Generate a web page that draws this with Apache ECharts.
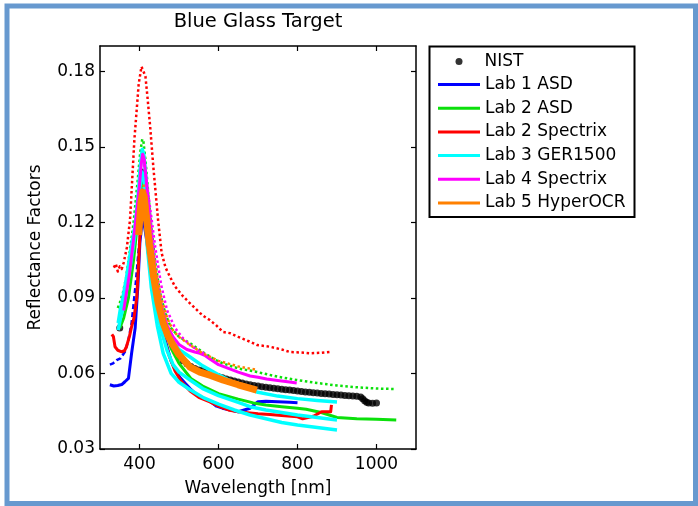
<!DOCTYPE html>
<html>
<head>
<meta charset="utf-8">
<script src="https://cdn.jsdelivr.net/npm/echarts@6/dist/echarts.min.js"></script>
<style>html,body{margin:0;padding:0;background:#fff;}#c{width:698px;height:506px;}</style>
</head>
<body>
<div id="c"></div>
<script>
// ---------- tick values ----------
const xTicks = [400, 600, 800, 1000];
const yTicks = [0.03, 0.06, 0.09, 0.12, 0.15, 0.18];

// ---------- NIST (black dots) ----------
const nistWl = [350,405,500,510,520,530,540,550,560,570,580,590,600,610,620,630,640,650,660,670,680,690,700,710,720,730,740,750,760,770,780,790,800,810,820,830,840,850,860,870,880,890,900,910,920,930,940,950,960,965,970,975,980,990,1000];
const nistRf = [0.078,0.140,0.0668,0.065,0.0638,0.0628,0.062,0.0614,0.0612,0.0605,0.0598,0.0592,0.0587,0.0583,0.0578,0.0574,0.057,0.0566,0.0562,0.0558,0.0555,0.0552,0.055,0.0547,0.0545,0.0543,0.0541,0.0539,0.0537,0.0535,0.0534,0.0532,0.053,0.0528,0.0526,0.0525,0.0523,0.0522,0.052,0.0519,0.0518,0.0516,0.0515,0.0514,0.0512,0.0511,0.051,0.0509,0.0506,0.050,0.0492,0.0486,0.0483,0.0482,0.0483];

// ---------- Lab 1 ASD (blue) ----------
const lab1Wl = [325,335,345,355,363,372,380,389,396,401,405,409,413,418,422,430,443,455,469,480,490,502,515,528,545,560,578,595,610,630,650,665,680,690,700,720,750,780,800];
const lab1Rf = [0.0555,0.055,0.0552,0.0556,0.0567,0.058,0.068,0.078,0.095,0.112,0.118,0.121,0.118,0.113,0.108,0.099,0.089,0.079,0.071,0.065,0.0615,0.0585,0.0562,0.054,0.0515,0.0502,0.049,0.047,0.0462,0.0455,0.0448,0.0455,0.0462,0.0475,0.0488,0.049,0.0488,0.0486,0.0484];
const lab1UpWl = [325,333,342,352,363,372,380,390,400,408];
const lab1UpRf = [0.0635,0.064,0.0653,0.066,0.0686,0.0733,0.080,0.095,0.113,0.122];

// ---------- Lab 2 ASD (green) ----------
const lab2aWl = [350,360,372,385,395,403,408,414,422,432,445,460,480,500,530,560,600,650,688,720,760,800,822,860,900,950,1000,1050];
const lab2aRf = [0.078,0.082,0.090,0.105,0.120,0.133,0.138,0.132,0.118,0.104,0.090,0.080,0.070,0.064,0.058,0.055,0.052,0.0498,0.0483,0.0475,0.0468,0.0462,0.0458,0.0445,0.0425,0.042,0.0418,0.0415];
const lab2aUpWl = [345,350,358,366,375,385,395,402,407,410,415,422,430,440,452,465,480,500,528,560,590,611,650,697,750,798,850,900,941,950,1000,1050];
const lab2aUpRf = [0.086,0.088,0.092,0.098,0.108,0.120,0.136,0.148,0.153,0.152,0.145,0.132,0.118,0.104,0.092,0.084,0.078,0.0745,0.072,0.0685,0.0655,0.064,0.062,0.0606,0.0587,0.0574,0.0562,0.0552,0.0546,0.0545,0.054,0.0538];

// ---------- Lab 2 Spectrix (red) ----------
const lab2sWl = [330,334,338,345,355,362,367,375,380,386,393,398,402,407,410,415,422,432,445,460,475,490,505,528,550,578,600,625,650,680,700,730,760,800,813,840,861,884,886];
const lab2sRf = [0.0755,0.0746,0.0706,0.0692,0.0686,0.069,0.0706,0.075,0.0786,0.082,0.090,0.105,0.118,0.130,0.133,0.127,0.113,0.097,0.085,0.075,0.067,0.061,0.057,0.053,0.0505,0.0487,0.047,0.0455,0.0448,0.0443,0.044,0.0437,0.0433,0.0428,0.042,0.043,0.0448,0.0448,0.0475];
const lab2sUpWl = [335,340,345,350,355,360,368,376,387,398,405,410,415,420,427,435,447,456,466,477,490,511,530,553,565,578,595,611,629,650,680,697,730,760,781,810,832,860,886];
const lab2sUpRf = [0.102,0.1035,0.1005,0.1025,0.1015,0.104,0.110,0.121,0.1527,0.175,0.1818,0.1825,0.178,0.170,0.158,0.142,0.121,0.1078,0.102,0.0984,0.0945,0.0905,0.0875,0.084,0.0825,0.0812,0.079,0.0765,0.076,0.0745,0.0726,0.0713,0.0706,0.0695,0.0685,0.0683,0.068,0.0682,0.0686];

// ---------- Lab 3 GER1500 (cyan) ----------
const lab3AWl = [346,351,358,367,374,380,389,396,402,407,411,416,424,434,446,460,480,500,528,560,600,650,700,750,800,850,900];
const lab3ARf = [0.080,0.085,0.090,0.098,0.105,0.111,0.119,0.130,0.142,0.149,0.147,0.138,0.122,0.106,0.092,0.082,0.0735,0.0695,0.0665,0.063,0.0595,0.0555,0.0525,0.051,0.050,0.0493,0.0487];
const lab3BWl = [346,352,360,368,376,385,394,401,406,411,418,428,440,455,470,485,500,528,560,600,650,680,720,760,800,850,900];
const lab3BRf = [0.0772,0.082,0.087,0.094,0.102,0.111,0.122,0.134,0.140,0.138,0.125,0.107,0.090,0.077,0.069,0.0635,0.0605,0.0574,0.054,0.0512,0.0485,0.0468,0.0455,0.0445,0.0435,0.0425,0.0415];
const lab3CWl = [402,408,414,420,430,445,460,480,500,528,560,600,640,680,720,760,800,850,900];
const lab3CRf = [0.125,0.130,0.125,0.110,0.094,0.079,0.068,0.060,0.0565,0.0535,0.0505,0.0478,0.0455,0.0435,0.042,0.0405,0.0395,0.0385,0.0375];

// ---------- Lab 4 Spectrix (magenta) ----------
const lab4Wl = [360,375,390,400,405,408,412,418,428,440,455,470,485,500,520,540,553,565,580,600,625,650,680,700,722,750,780,798];
const lab4Rf = [0.085,0.100,0.120,0.135,0.144,0.147,0.145,0.135,0.118,0.100,0.087,0.079,0.0745,0.0715,0.0695,0.0685,0.068,0.0672,0.0655,0.0635,0.062,0.0605,0.059,0.0585,0.0578,0.0572,0.0566,0.0562];
const lab4UpWl = [408,415,425,440,455,470,490,510,530,550,570];
const lab4UpRf = [0.147,0.140,0.128,0.110,0.095,0.085,0.078,0.074,0.071,0.069,0.0675];

// ---------- Lab 5 HyperOCR (orange) ----------
const lab5Wl = [398,400,404,408,412,418,425,435,447,460,472,484,500,528,553,580,611,650,697];
const lab5Rf = [0.115,0.120,0.128,0.132,0.130,0.121,0.111,0.099,0.088,0.080,0.075,0.0715,0.0675,0.0625,0.0605,0.0592,0.0574,0.0555,0.0534];
const lab5UpWl = [410,418,428,440,455,470,485,500,528,560,600,650,697];
const lab5UpRf = [0.135,0.128,0.115,0.102,0.090,0.082,0.077,0.0745,0.0713,0.068,0.065,0.0628,0.0614];

const labNames = ['Lab 1 ASD','Lab 2 ASD','Lab 2 Spectrix','Lab 3 GER1500','Lab 4 Spectrix','Lab 5 HyperOCR'];

const FONT = 'DejaVu Sans';
const C = {blue:'#0000ff', green:'#0be00b', red:'#ff0000', cyan:'#00ffff', magenta:'#ff00ff', orange:'#ff8000'};

function zip(a, b){ return a.map((v,i)=>[v,b[i]]); }
function line(name, wl, rf, color, width, type, z){
  return {
    type:'line', name:name, data:zip(wl,rf), symbol:'none', smooth:false,
    color:color, itemStyle:{color:color},
    lineStyle:{color:color, width:width, type:type||'solid', cap:'butt', join:'round'},
    z: z||2, silent:true, animation:false
  };
}
const dot = [2.5, 2.6];

const series = [
  {type:'scatter', name:'NIST', data:zip(nistWl,nistRf), symbol:'circle', symbolSize:7,
   itemStyle:{color:'#000'}, z:1, silent:true, animation:false},
  line('Lab 1 ASD', lab1Wl, lab1Rf, C.blue, 3),
  line('Lab 1 ASD b', lab1UpWl, lab1UpRf, C.blue, 2.5, [5,3]),
  line('Lab 2 ASD', lab2aWl, lab2aRf, C.green, 3),
  line('Lab 2 ASD b', lab2aUpWl, lab2aUpRf, C.green, 2.5, dot),
  line('Lab 2 Spectrix', lab2sWl, lab2sRf, C.red, 3),
  line('Lab 2 Spectrix b', lab2sUpWl, lab2sUpRf, C.red, 2.5, dot),
  line('Lab 3 GER1500', lab3AWl, lab3ARf, C.cyan, 3.5),
  line('Lab 3 GER1500 b', lab3BWl, lab3BRf, C.cyan, 3.5),
  line('Lab 3 GER1500 c', lab3CWl, lab3CRf, C.cyan, 3.5),
  line('Lab 4 Spectrix', lab4Wl, lab4Rf, C.magenta, 3),
  line('Lab 4 Spectrix b', lab4UpWl, lab4UpRf, C.magenta, 2.5, dot),
  line('Lab 5 HyperOCR', lab5Wl, lab5Rf, C.orange, 7),
  line('Lab 5 HyperOCR b', lab5UpWl, lab5UpRf, C.orange, 2.5, dot)
];

const axisLineStyle = {color:'#000', width:1.5};
const txt = {color:'#000', fontFamily:FONT, fontSize:17};

const option = {
  animation:false,
  backgroundColor:'#fff',
  title:{text:'Blue Glass Target', left:258, top:12, textAlign:'center', padding:0,
    textStyle:{color:'#000', fontFamily:FONT, fontSize:19.5, fontWeight:'normal'}},
  grid:{left:100, top:46, right:282, bottom:57, containLabel:false},
  legend:[
    {data:[{name:'NIST', icon:'circle'}], orient:'vertical', left:455.5, top:53, padding:0,
     itemWidth:7, itemHeight:7, itemGap:7, selectedMode:false,
     textStyle:{color:'#000', fontFamily:FONT, fontSize:17, padding:[0,0,0,17]}},
    {data:labNames.map(n=>({name:n, icon:'rect'})), orient:'vertical', left:438, top:76, padding:0,
     itemWidth:42, itemHeight:3, itemGap:6.7, textStyle:txt, selectedMode:false}
  ],
  xAxis:[
    {type:'value', min:300, max:1100, position:'bottom',
     axisLine:{show:true, onZero:false, lineStyle:axisLineStyle},
     axisTick:{show:true, inside:true, length:5, customValues:xTicks, lineStyle:{color:'#000', width:1.2}},
     axisLabel:{customValues:xTicks, formatter:v=>String(v), color:'#000', fontFamily:FONT, fontSize:17, margin:7},
     splitLine:{show:false},
     name:'Wavelength [nm]', nameLocation:'middle', nameGap:31, nameTextStyle:txt},
    {type:'value', min:300, max:1100, position:'top',
     axisLine:{show:true, onZero:false, lineStyle:axisLineStyle},
     axisTick:{show:true, inside:true, length:5, customValues:xTicks, lineStyle:{color:'#000', width:1.2}},
     axisLabel:{show:false}, splitLine:{show:false}}
  ],
  yAxis:[
    {type:'value', min:0.03, max:0.19, position:'left',
     axisLine:{show:true, onZero:false, lineStyle:axisLineStyle},
     axisTick:{show:true, inside:true, length:5, customValues:yTicks, lineStyle:{color:'#000', width:1.2}},
     axisLabel:{customValues:yTicks, formatter:v=>v.toFixed(2), color:'#000', fontFamily:FONT, fontSize:17, margin:5},
     splitLine:{show:false},
     name:'Reflectance Factors', nameLocation:'middle', nameGap:56, nameTextStyle:txt},
    {type:'value', min:0.03, max:0.19, position:'right',
     axisLine:{show:true, onZero:false, lineStyle:axisLineStyle},
     axisTick:{show:true, inside:true, length:5, customValues:yTicks, lineStyle:{color:'#000', width:1.2}},
     axisLabel:{show:false}, splitLine:{show:false}}
  ],
  graphic:[
    {type:'rect', shape:{x:7, y:6, width:688.5, height:497.5}, style:{fill:'none', stroke:'#6799cf', lineWidth:5}, z:100, silent:true},
    {type:'rect', shape:{x:429.5, y:46.5, width:205, height:170.5}, style:{fill:'none', stroke:'#000', lineWidth:2}, z:100, silent:true}
  ],
  series:series
};

const chart = echarts.init(document.getElementById('c'), null, {renderer:'canvas'});
chart.setOption(option);
</script>
</body>
</html>
